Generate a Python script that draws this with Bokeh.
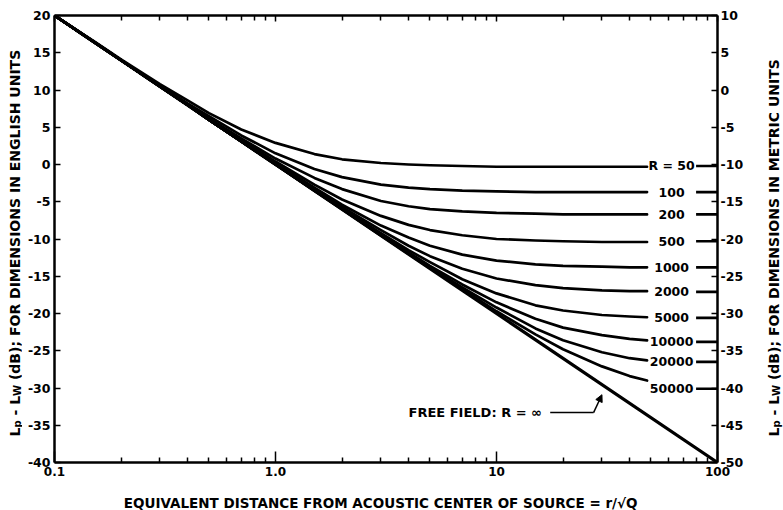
import numpy as np
from bokeh.plotting import figure
from bokeh.layouts import row, column
from bokeh.models import (Range1d, LinearAxis, LogAxis, FixedTicker, PrintfTickFormatter,
                          Label, Arrow, NormalHead)
from bokeh.embed import file_html
from bokeh.resources import INLINE
from bokeh.core.properties import value

# ---------------- data ----------------
distance = [0.1, 0.15, 0.2, 0.3, 0.4, 0.5, 0.7, 1.0, 1.5, 2, 3, 4, 5, 7, 10, 15, 20, 30, 40, 48]

room_labels = ["R = 50", "100", "200", "500", "1000", "2000", "5000", "10000", "20000", "50000"]

r50 = [20.0, 16.6, 14.1, 10.8, 8.6, 6.9, 4.7, 2.9, 1.4, 0.7, 0.2, 0.0, -0.1, -0.2, -0.3, -0.3, -0.3, -0.3, -0.3, -0.3]
r100 = [20.0, 16.5, 14.0, 10.6, 8.2, 6.5, 3.9, 1.5, -0.6, -1.7, -2.7, -3.1, -3.3, -3.5, -3.6, -3.7, -3.7, -3.7, -3.7, -3.7]
r200 = [20.0, 16.5, 14.0, 10.5, 8.1, 6.2, 3.5, 0.8, -1.8, -3.3, -4.9, -5.6, -6.0, -6.3, -6.5, -6.6, -6.7, -6.7, -6.7, -6.7]
r500 = [20.0, 16.5, 14.0, 10.5, 8.0, 6.1, 3.3, 0.4, -2.7, -4.7, -6.9, -8.1, -8.8, -9.5, -10.0, -10.2, -10.3, -10.4, -10.4, -10.4]
r1000 = [20.0, 16.5, 14.0, 10.5, 8.0, 6.1, 3.2, 0.2, -3.1, -5.4, -8.2, -9.8, -10.9, -12.1, -12.9, -13.4, -13.6, -13.7, -13.8, -13.8]
r2000 = [20.0, 16.5, 14.0, 10.5, 8.0, 6.0, 3.1, 0.1, -3.3, -5.7, -8.8, -10.9, -12.3, -14.0, -15.3, -16.2, -16.6, -16.9, -17.0, -17.0]
r5000 = [20.0, 16.5, 14.0, 10.5, 8.0, 6.0, 3.1, 0.0, -3.4, -5.9, -9.2, -11.5, -13.1, -15.4, -17.3, -18.9, -19.6, -20.2, -20.4, -20.5]
r10000 = [20.0, 16.5, 14.0, 10.5, 8.0, 6.0, 3.1, 0.0, -3.5, -5.9, -9.4, -11.8, -13.6, -16.1, -18.5, -20.7, -21.9, -22.9, -23.4, -23.6]
r20000 = [20.0, 16.5, 14.0, 10.5, 8.0, 6.0, 3.1, 0.0, -3.5, -6.0, -9.5, -11.9, -13.8, -16.5, -19.2, -22.0, -23.6, -25.2, -26.0, -26.3]
r50000 = [20.0, 16.5, 14.0, 10.5, 8.0, 6.0, 3.1, 0.0, -3.5, -6.0, -9.5, -12.0, -13.9, -16.7, -19.7, -22.8, -24.8, -27.1, -28.4, -29.0]

# levels of the short end marks at the right edge
tail_levels = [-0.2, -3.7, -6.7, -10.3, -13.8, -17.1, -20.6, -23.8, -26.5, -30.1]

free_field_x = [0.1, 1, 10, 100]
free_field_y = [20, 0, -20, -40]

x_tick_values = [0.1, 1, 10, 100]
x_tick_labels = ["0.1", "1.0", "10", "100"]
x_minor_values = [0.2, 0.3, 0.4, 0.5, 0.6, 0.7, 0.8, 0.9,
                  2, 3, 4, 5, 6, 7, 8, 9,
                  20, 30, 40, 50, 60, 70, 80, 90]
left_ticks = list(range(-40, 25, 5))
right_ticks = list(range(-50, 15, 5))

NBSP = "\u00a0"
x_title = "EQUIVALENT DISTANCE FROM ACOUSTIC CENTER OF SOURCE = r/\u221aQ"
left_title_rest = NBSP + "(dB); FOR DIMENSIONS IN ENGLISH UNITS"
right_title_rest = NBSP + "(dB); FOR DIMENSIONS IN METRIC UNITS"

# ---------------- styling / layout ----------------
FONT = "DejaVu Sans"
AX_W = 2.5
CURVE_W = 2.7
SIDE_W = 22
TOTAL_W, TOTAL_H = 783, 510
MAIN_W = TOTAL_W - 2 * SIDE_W
MAIN_H = 484
BOTTOM_H = TOTAL_H - MAIN_H

p = figure(width=MAIN_W, height=MAIN_H, x_axis_type="log",
           x_range=Range1d(0.1, 100), y_range=Range1d(-40, 20),
           output_backend="svg", toolbar_location=None,
           min_border_left=32, min_border_right=44, min_border_top=15, min_border_bottom=22)
p.xgrid.visible = False
p.ygrid.visible = False
p.outline_line_color = None
p.background_fill_color = "white"
p.border_fill_color = "white"

bx = p.xaxis[0]
bx.ticker = FixedTicker(ticks=x_tick_values, minor_ticks=x_minor_values)
bx.major_label_overrides = dict(zip(x_tick_values, x_tick_labels))
bx.major_tick_in = 11
bx.major_tick_out = 0
bx.minor_tick_in = 5
bx.minor_tick_out = 0
bx.axis_line_width = AX_W
bx.major_tick_line_width = 1.5
bx.minor_tick_line_width = 1.5
bx.major_label_standoff = 4
bx.major_label_text_font = FONT
bx.major_label_text_font_style = "bold"
bx.major_label_text_font_size = "12px"
bx.major_label_text_color = "black"

ly = p.yaxis[0]
ly.ticker = FixedTicker(ticks=left_ticks)
ly.formatter = PrintfTickFormatter(format="%d")
ly.major_tick_in = 6
ly.major_tick_out = 0
ly.minor_tick_line_color = None
ly.axis_line_width = AX_W
ly.major_tick_line_width = 1.5
ly.major_label_standoff = 4
ly.major_label_text_font = FONT
ly.major_label_text_font_style = "bold"
ly.major_label_text_font_size = "12.5px"
ly.major_label_text_color = "black"

p.extra_y_ranges = {"metric": Range1d(-50, 10)}
ry = LinearAxis(y_range_name="metric", ticker=FixedTicker(ticks=right_ticks),
                formatter=PrintfTickFormatter(format="%d"))
ry.major_tick_in = 6
ry.major_tick_out = 0
ry.minor_tick_line_color = None
ry.axis_line_width = AX_W
ry.major_tick_line_width = 1.5
ry.major_label_standoff = 3
ry.major_label_text_font = FONT
ry.major_label_text_font_style = "bold"
ry.major_label_text_font_size = "12.5px"
ry.major_label_text_color = "black"
p.add_layout(ry, "right")

tx = LogAxis(ticker=FixedTicker(ticks=x_tick_values, minor_ticks=x_minor_values))
tx.major_label_text_font_size = "1px"
tx.major_label_text_color = None
tx.major_label_standoff = 0
tx.major_tick_in = 6
tx.major_tick_out = 0
tx.minor_tick_in = 5
tx.minor_tick_out = 0
tx.axis_line_width = AX_W
tx.major_tick_line_width = 1.5
tx.minor_tick_line_width = 1.5
p.add_layout(tx, "above")

# ---------------- curves ----------------
curves = [r50, r100, r200, r500, r1000, r2000, r5000, r10000, r20000, r50000]
p.multi_line(xs=[distance] * len(curves), ys=curves, line_color="black",
             line_width=CURVE_W, line_join="round", line_cap="round")

p.line(free_field_x, free_field_y, line_color="black", line_width=3.2)

p.multi_line(xs=[[80, 100]] * len(tail_levels), ys=[[v, v] for v in tail_levels],
             line_color="black", line_width=CURVE_W)

p.text(x=[62] * len(room_labels), y=tail_levels, text=room_labels,
       text_font=value(FONT), text_font_style="bold", text_font_size="12.5px",
       text_align="center", text_baseline="middle", text_color="black")

# free field annotation
p.add_layout(Label(x=4.0, y=-33.3, text="FREE FIELD: R = \u221e", text_font=FONT,
                   text_font_style="bold", text_font_size="13px",
                   text_align="left", text_baseline="middle", text_color="black"))
p.add_layout(Arrow(end=None, x_start=17.5, y_start=-33.3, x_end=27.5, y_end=-33.3,
                   line_width=1.5, line_color="black"))
p.add_layout(Arrow(end=NormalHead(size=7, fill_color="black", line_color="black"),
                   x_start=27.5, y_start=-33.3, x_end=30.0, y_end=-30.9,
                   line_width=1.5, line_color="black"))


# ---------------- title strips ----------------
def strip(w, h):
    f = figure(width=w, height=h, x_range=Range1d(0, w), y_range=Range1d(0, h),
               output_backend="svg", toolbar_location=None,
               x_axis_location=None, y_axis_location=None,
               min_border_left=0, min_border_right=0, min_border_top=0, min_border_bottom=0)
    f.xgrid.visible = False
    f.ygrid.visible = False
    f.outline_line_color = None
    f.background_fill_color = "white"
    f.border_fill_color = "white"
    return f


def vertical_title(f, base_x, start_y, rest):
    main, sub = 14, 10
    pieces = [("L", main, False, 0.637 * main),
              ("p", sub, True, 0.716 * sub),
              (NBSP + "-" + NBSP + "L", main, False, 1.748 * main),
              ("W", sub, True, 1.103 * sub),
              (rest, main, False, 0)]
    pos = 0.0
    for txt, size, is_sub, w in pieces:
        f.text(x=[base_x + (3 if is_sub else 0)], y=[start_y + pos], text=[txt],
               angle=np.pi / 2, text_font=value(FONT), text_font_style="bold",
               text_font_size=f"{size}px", text_align="left",
               text_baseline="alphabetic", text_color="black")
        pos += w


left_strip = strip(SIDE_W, TOTAL_H)
vertical_title(left_strip, 14, 74, left_title_rest)

right_strip = strip(SIDE_W, TOTAL_H)
vertical_title(right_strip, 12, 74, right_title_rest)

bottom_strip = strip(MAIN_W, BOTTOM_H)
bottom_strip.text(x=[385.5 - SIDE_W], y=[8], text=[x_title], text_font=value(FONT),
                  text_font_style="bold", text_font_size="13.5px", text_align="center",
                  text_baseline="alphabetic", text_color="black")

layout = row(left_strip, column(p, bottom_strip), right_strip)

open("out.html", "w").write(file_html(layout, INLINE))
